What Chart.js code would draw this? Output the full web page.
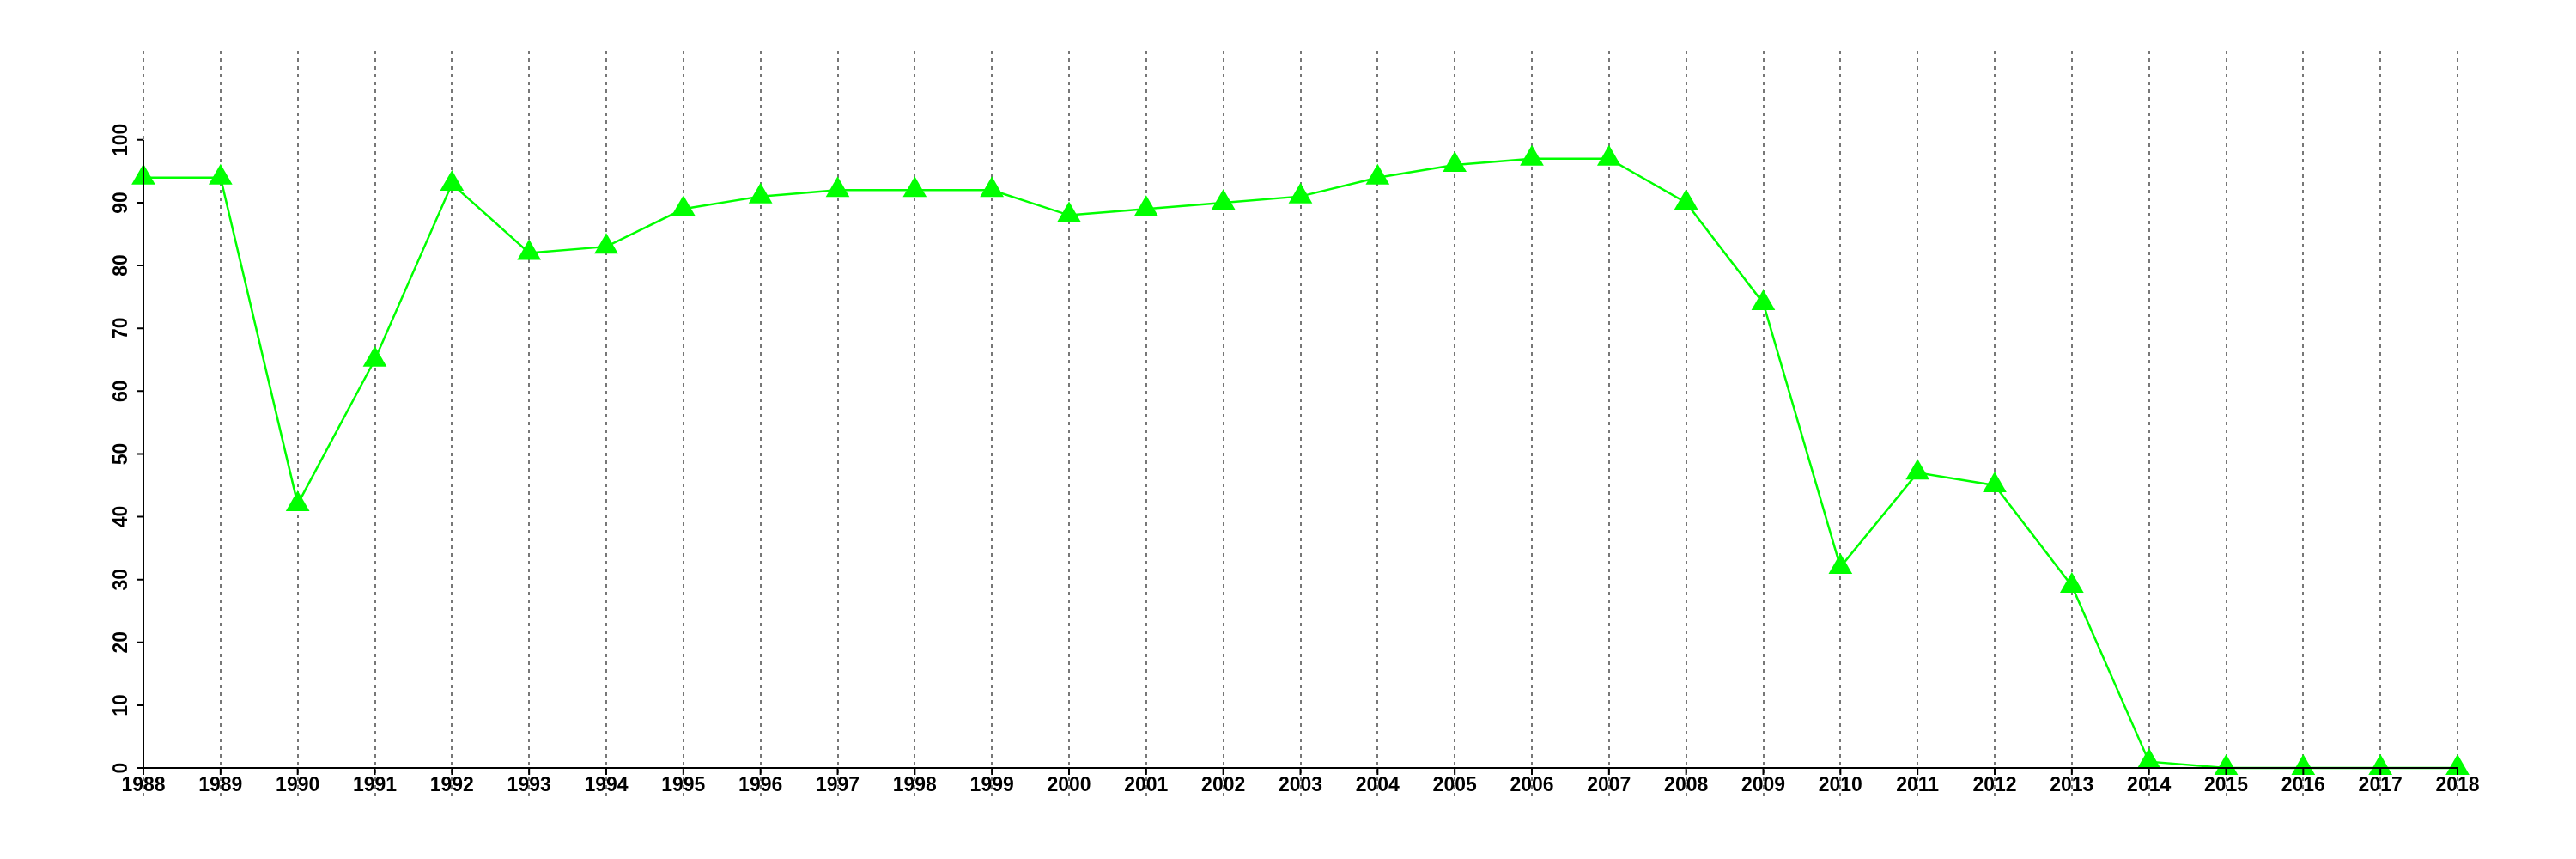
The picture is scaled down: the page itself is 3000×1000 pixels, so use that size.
<!DOCTYPE html>
<html>
<head>
<meta charset="utf-8">
<script src="https://cdn.jsdelivr.net/npm/chart.js@4"></script>
<style>
  html, body { margin: 0; padding: 0; background: #ffffff; }
  #wrap { width: 3000px; height: 1000px; }
</style>
</head>
<body>
<div id="wrap"><canvas id="c" width="3000" height="1000"></canvas></div>
<script>
const YEARS = ['1988','1989','1990','1991','1992','1993','1994','1995','1996','1997','1998','1999','2000','2001','2002','2003','2004','2005','2006','2007','2008','2009','2010','2011','2012','2013','2014','2015','2016','2017','2018'];
const VALUES = [94, 94, 42, 65, 93, 82, 83, 89, 91, 92, 92, 92, 88, 89, 90, 91, 94, 96, 97, 97, 90, 74, 32, 47, 45, 29, 1, 0, 0, 0, 0];
const Y_TICKS = [0, 10, 20, 30, 40, 50, 60, 70, 80, 90, 100];
const Y_MIN = 0;
const Y_MAX = 114.2;

const FONT = { family: "'Liberation Sans', Arial, Helvetica, sans-serif", size: 23, weight: 'bold' };

const axesPlugin = {
  id: 'axesPlugin',
  beforeDraw(chart) {
    // dotted grid extension below the x axis
    const ctx = chart.ctx, xs = chart.scales.x, area = chart.chartArea;
    ctx.save();
    ctx.strokeStyle = '#777777';
    ctx.lineWidth = 2;
    ctx.setLineDash([4, 5]);
    xs.ticks.forEach((t, i) => {
      const px = Math.round(xs.getPixelForTick(i));
      ctx.beginPath();
      ctx.moveTo(px, area.bottom + 2);
      ctx.lineTo(px, area.bottom + 34);
      ctx.stroke();
    });
    ctx.restore();
  },
  afterDatasetsDraw(chart) {
    const ctx = chart.ctx, xs = chart.scales.x, ys = chart.scales.y, area = chart.chartArea;
    ctx.save();
    ctx.strokeStyle = '#000000';
    ctx.lineWidth = 2;
    ctx.setLineDash([]);
    const y0 = ys.getPixelForValue(Y_TICKS[0]);
    const yTop = ys.getPixelForValue(Y_TICKS[Y_TICKS.length - 1]);
    const xFirst = xs.getPixelForTick(0);
    const xLast = xs.getPixelForTick(xs.ticks.length - 1);
    ctx.beginPath();
    ctx.moveTo(xFirst, y0);
    ctx.lineTo(xLast, y0);
    xs.ticks.forEach((t, i) => {
      const px = xs.getPixelForTick(i);
      ctx.moveTo(px, y0);
      ctx.lineTo(px, y0 + 8);
    });
    ctx.moveTo(area.left, y0);
    ctx.lineTo(area.left, yTop);
    Y_TICKS.forEach(v => {
      const py = ys.getPixelForValue(v);
      ctx.moveTo(area.left, py);
      ctx.lineTo(area.left - 8, py);
    });
    ctx.stroke();
    ctx.restore();
  }
};

new Chart(document.getElementById('c'), {
  type: 'line',
  data: {
    labels: YEARS,
    datasets: [{
      data: VALUES,
      borderColor: '#00ff00',
      borderWidth: 2.5,
      backgroundColor: '#00ff00',
      pointStyle: 'triangle',
      pointRadius: 16,
      pointHoverRadius: 16,
      pointBorderWidth: 0,
      pointBackgroundColor: '#00ff00',
      tension: 0,
      fill: false,
      clip: false
    }]
  },
  options: {
    responsive: false,
    animation: false,
    events: [],
    layout: { padding: { left: 0, right: 138, top: 59, bottom: 56 } },
    plugins: { legend: { display: false }, tooltip: { enabled: false } },
    scales: {
      x: {
        type: 'category',
        offset: false,
        border: { display: false, dash: [4, 5] },
        grid: {
          display: true,
          drawTicks: false,
          color: '#777777',
          lineWidth: 2,
          drawOnChartArea: true
        },
        ticks: {
          color: '#000000',
          font: FONT,
          padding: 7,
          autoSkip: false,
          maxRotation: 0,
          minRotation: 0
        },
        afterFit(scale) { scale.height = 50; }
      },
      y: {
        min: Y_MIN,
        max: Y_MAX,
        border: { display: false },
        grid: { display: false, drawTicks: false },
        ticks: {
          color: '#000000',
          font: FONT,
          padding: 6,
          crossAlign: 'center',
          minRotation: 90,
          maxRotation: 90
        },
        afterBuildTicks(scale) {
          scale.ticks = Y_TICKS.map(v => ({ value: v }));
        },
        afterFit(scale) { scale.width = 167; }
      }
    }
  },
  plugins: [axesPlugin]
});
</script>
</body>
</html>
